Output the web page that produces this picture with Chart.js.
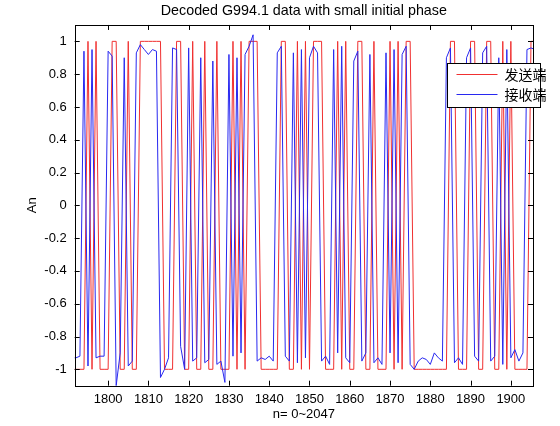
<!DOCTYPE html>
<html>
<head>
<meta charset="utf-8">
<script src="https://cdn.jsdelivr.net/npm/chart.js@4.4.1/dist/chart.umd.min.js"></script>
<style>
  html, body { margin: 0; padding: 0; background: #fff; }
</style>
</head>
<body>
<canvas id="chart" width="560" height="426"></canvas>
<script>
// sample index n (first sample shown), then one value per sample
const nStart = 1791;
const sent = [
  -1, -1, -1, -1, 1, -1, 1, -1, -1, -1,
  1, 1, -1, -1, 1, -1, -1, 1, 1, 1,
  1, 1, 1, -1, -1, -1, 1, 1, -1, -1,
  1, -1, -1, 1, -1, -1, 1, -1, -1, -1,
  1, -1, 1, -1, 1, 1, 1, -1, -1, -1,
  -1, -1, 1, 1, -1, -1, 1, -1, 1, -1,
  1, 1, 1, -1, -1, -1, 1, -1, 1, -1,
  -1, 1, 1, -1, -1, 1, -1, -1, -1, 1,
  -1, 1, -1, 1, 1, -1, -1, -1, -1, -1,
  -1, -1, -1, -1, 1, 1, -1, -1, -1, 1,
  1, -1, -1, 1, 1, -1, -1, 1, -1, 1,
  -1, -1, -1, -1, 1, 1
];
const received = [
  -0.93, -0.93, -0.92, 0.94, -0.98, 0.95, -0.93, -0.92, -0.92, 0.94,
  0.91, -1.1, -0.9, 0.9, -0.98, -0.95, 0.93, 0.98, 0.95, 0.92,
  0.95, 0.94, -1.05, -1.0, -0.93, 0.96, 0.95, -0.86, -1.0, 0.96,
  -0.95, -0.93, 0.9, -0.96, -0.94, 0.88, -0.97, -0.95, -1.08, 0.92,
  -0.92, 0.9, -0.9, 0.92, 0.97, 1.04, -0.95, -0.93, -0.94, -0.92,
  -0.95, 0.93, 0.97, -0.92, -0.95, 0.93, -0.96, 0.95, -0.93, 0.9,
  0.97, 0.93, -0.95, -0.92, -0.97, 0.95, -0.9, 0.97, -0.93, -0.96,
  0.88, 0.94, -0.95, -0.9, 0.92, -0.96, -0.93, -0.97, 0.93, -0.9,
  0.95, -0.96, 0.92, 0.97, -0.97, -1.0, -0.95, -0.93, -0.94, -0.97,
  -0.9, -0.93, -0.95, 0.9, 0.96, -0.96, -0.93, -0.97, 0.9, 0.96,
  -0.92, -0.95, 0.93, 0.97, -0.95, -0.92, 0.9, -0.97, 0.95, -0.93,
  -0.88, -0.95, -0.9, 0.95, 0.96, 0.95
];
const xTicks = [1800, 1810, 1820, 1830, 1840, 1850, 1860, 1870, 1880, 1890, 1900];
const yTicks = [-1, -0.8, -0.6, -0.4, -0.2, 0, 0.2, 0.4, 0.6, 0.8, 1];
const seriesNames = ['发送端', '接收端'];
const seriesColors = ['#f03030', '#2828f0'];

const toPoints = (vals) => vals.map((v, i) => ({ x: nStart + i, y: v }));

// box + inward ticks on all four sides, like a matlab axes
const axesBox = {
  id: 'axesBox',
  afterDatasetsDraw: (chart) => {
    const { ctx, chartArea: a, scales: { x, y } } = chart;
    ctx.save();
    ctx.strokeStyle = '#000';
    ctx.lineWidth = 1;
    ctx.strokeRect(Math.round(a.left) + 0.5, Math.round(a.top) + 0.5,
      Math.round(a.right - a.left), Math.round(a.bottom - a.top));
    ctx.beginPath();
    xTicks.forEach(v => {
      const px = Math.round(x.getPixelForValue(v)) + 0.5;
      ctx.moveTo(px, a.bottom); ctx.lineTo(px, a.bottom - 5);
      ctx.moveTo(px, a.top); ctx.lineTo(px, a.top + 5);
    });
    yTicks.forEach(v => {
      const py = Math.round(y.getPixelForValue(v)) + 0.5;
      ctx.moveTo(a.left, py); ctx.lineTo(a.left + 5, py);
      ctx.moveTo(a.right, py); ctx.lineTo(a.right - 5, py);
    });
    ctx.stroke();
    ctx.restore();
  }
};

// legend box sitting inside the plot, top right
const boxLegend = {
  id: 'boxLegend',
  afterDraw: (chart) => {
    const ctx = chart.ctx;
    const left = 447.5, top = 63.5, w = 93, h = 44;
    ctx.save();
    ctx.fillStyle = '#fff';
    ctx.fillRect(left, top, w, h);
    ctx.strokeStyle = '#000';
    ctx.lineWidth = 1;
    ctx.strokeRect(left, top, w, h);
    ctx.font = '14px "Noto Sans CJK SC"';
    ctx.textBaseline = 'middle';
    seriesNames.forEach((name, i) => {
      const yy = top + 11 + i * 20;
      ctx.strokeStyle = seriesColors[i];
      ctx.beginPath();
      ctx.moveTo(left + 9, yy); ctx.lineTo(left + 50, yy);
      ctx.stroke();
      ctx.fillStyle = '#000';
      ctx.fillText(name, left + 57, yy);
    });
    ctx.restore();
  }
};

const font13 = { family: '"Liberation Sans", Arial, sans-serif', size: 13 };

new Chart(document.getElementById('chart'), {
  type: 'line',
  data: {
    datasets: [
      {
        label: seriesNames[0],
        data: toPoints(sent),
        borderColor: seriesColors[0],
        borderWidth: 1,
        pointRadius: 0,
        tension: 0,
        order: 2
      },
      {
        label: seriesNames[1],
        data: toPoints(received),
        borderColor: seriesColors[1],
        borderWidth: 1,
        pointRadius: 0,
        tension: 0,
        order: 1
      }
    ]
  },
  options: {
    responsive: false,
    animation: false,
    devicePixelRatio: 1,
    layout: { padding: { left: 0, right: 27, top: 0, bottom: 0 } },
    plugins: {
      legend: { display: false },
      tooltip: { enabled: false },
      title: {
        display: true,
        fullSize: false,
        text: 'Decoded G994.1 data with small initial phase',
        color: '#000',
        font: { family: font13.family, size: 14.3, weight: 'normal' },
        padding: { top: 2.2, bottom: 5.6 }
      }
    },
    scales: {
      x: {
        type: 'linear',
        min: 1791.7,
        max: 1905.5,
        afterBuildTicks: (scale) => { scale.ticks = xTicks.map(v => ({ value: v })); },
        afterFit: (scale) => { scale.height = 40.3; },
        grid: { display: false, drawTicks: false },
        border: { display: false },
        ticks: {
          autoSkip: false,
          maxRotation: 0,
          padding: 6,
          color: '#000',
          font: font13,
          callback: (v) => String(v)
        },
        title: {
          display: true,
          text: 'n= 0~2047',
          color: '#000',
          font: font13,
          padding: { top: 0, bottom: 4.2 }
        }
      },
      y: {
        min: -1.1,
        max: 1.1,
        afterBuildTicks: (scale) => { scale.ticks = yTicks.map(v => ({ value: v })); },
        afterFit: (scale) => { scale.width = 74.7; },
        grid: { display: false, drawTicks: false },
        border: { display: false },
        ticks: {
          autoSkip: false,
          padding: 8,
          color: '#000',
          font: font13,
          callback: (v) => String(Math.round(v * 10) / 10)
        },
        title: {
          display: true,
          text: 'An',
          color: '#000',
          font: font13,
          padding: { top: 24.2, bottom: 0 }
        }
      }
    }
  },
  plugins: [axesBox, boxLegend]
});
</script>
</body>
</html>
